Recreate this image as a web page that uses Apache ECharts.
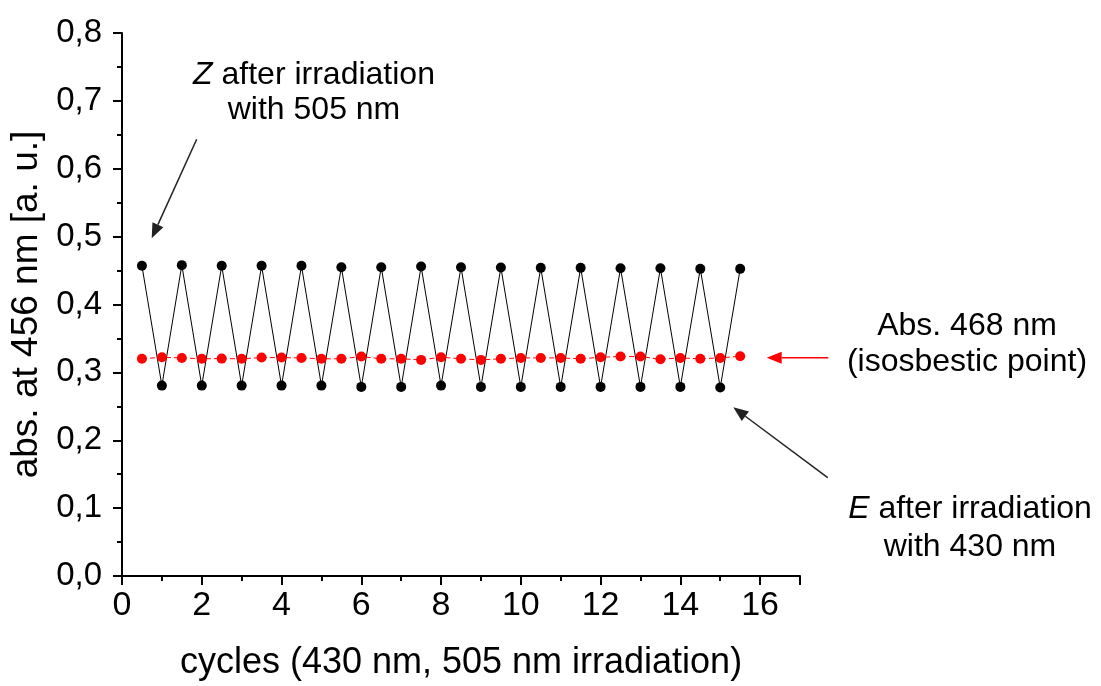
<!DOCTYPE html>
<html>
<head>
    <meta charset="utf-8">
    <title>cycles</title>
    <script src="https://cdn.jsdelivr.net/npm/echarts@6/dist/echarts.min.js"></script>
    <style>
        html, body { margin: 0; padding: 0; background-color: #ffffff; }
        #chart { width: 1101px; height: 686px; }
    </style>
</head>
<body>
<div id="chart"></div>
<script>
    // x positions: half cycles
    var cycles = [0.5, 1, 1.5, 2, 2.5, 3, 3.5, 4, 4.5, 5, 5.5, 6, 6.5, 7, 7.5, 8,
        8.5, 9, 9.5, 10, 10.5, 11, 11.5, 12, 12.5, 13, 13.5, 14, 14.5, 15, 15.5];
    // absorbance at 456 nm (Z / E switching)
    var abs456 = [0.457, 0.2805, 0.458, 0.2805, 0.457, 0.2805, 0.457, 0.2805, 0.457, 0.2805,
        0.455, 0.2786, 0.455, 0.2786, 0.456, 0.2805, 0.455, 0.2786, 0.4545, 0.2786,
        0.454, 0.2786, 0.454, 0.2786, 0.4535, 0.2786, 0.4535, 0.2786, 0.4525, 0.2776, 0.4525];
    // absorbance at 468 nm (isosbestic point)
    var abs468 = [0.320, 0.3223, 0.3213, 0.320, 0.3203, 0.320, 0.3218, 0.3218, 0.3213, 0.320,
        0.320, 0.3233, 0.320, 0.320, 0.3184, 0.3223, 0.320, 0.3184, 0.320, 0.3213,
        0.3213, 0.3213, 0.320, 0.3223, 0.3233, 0.3233, 0.3194, 0.3213, 0.320, 0.3213, 0.3238];
    var yTicks = ['0,0', '0,1', '0,2', '0,3', '0,4', '0,5', '0,6', '0,7', '0,8'];

    var font = 'Liberation Sans, Arial, sans-serif';

    function pairs(xs, ys) {
        var out = [];
        for (var i = 0; i < xs.length; i++) out.push([xs[i], ys[i]]);
        return out;
    }

    // arrow line + filled triangular head (pixel coords, annotation only)
    function arrow(x1, y1, x2, y2, color) {
        var dx = x2 - x1, dy = y2 - y1, len = Math.sqrt(dx * dx + dy * dy);
        var ux = dx / len, uy = dy / len, hl = 15, hw = 6;
        var bx = x2 - ux * hl, by = y2 - uy * hl;
        return [
            { type: 'line', shape: { x1: x1, y1: y1, x2: bx, y2: by }, style: { stroke: color, lineWidth: 1.5 } },
            {
                type: 'polygon',
                shape: { points: [[x2, y2], [bx - uy * hw, by + ux * hw], [bx + uy * hw, by - ux * hw]] },
                style: { fill: color }
            }
        ];
    }

    var chart = echarts.init(document.getElementById('chart'));
    var option = {
        animation: false,
        backgroundColor: '#ffffff',
        grid: { left: 122, top: 33, right: 301, bottom: 110 },
        xAxis: {
            type: 'value',
            min: 0, max: 17, interval: 2,
            name: 'cycles (430 nm, 505 nm irradiation)',
            nameLocation: 'middle',
            nameGap: 69,
            nameTextStyle: { fontFamily: font, fontSize: 36, color: '#000' },
            axisLine: { lineStyle: { color: '#000', width: 2 } },
            axisTick: { inside: false, length: 9, lineStyle: { color: '#000', width: 2 } },
            minorTick: { show: true, splitNumber: 2, length: 5, lineStyle: { color: '#000', width: 2 } },
            axisLabel: { fontFamily: font, fontSize: 34, color: '#000', margin: 13, showMaxLabel: false },
            splitLine: { show: false }
        },
        yAxis: {
            type: 'value',
            min: 0, max: 0.8, interval: 0.1,
            name: 'abs. at 456 nm [a. u.]',
            nameLocation: 'middle',
            nameGap: 75,
            nameTextStyle: { fontFamily: font, fontSize: 37, color: '#000' },
            axisLine: { show: true, lineStyle: { color: '#000', width: 2 } },
            axisTick: { show: true, inside: false, length: 9, lineStyle: { color: '#000', width: 2 } },
            minorTick: { show: true, splitNumber: 2, length: 5, lineStyle: { color: '#000', width: 2 } },
            axisLabel: {
                fontFamily: font, fontSize: 33, color: '#000', margin: 20,
                formatter: function (v) { return yTicks[Math.round(v * 10)]; }
            },
            splitLine: { show: false }
        },
        series: [
            {
                type: 'line',
                data: pairs(cycles, abs456),
                symbol: 'circle',
                symbolSize: 10,
                itemStyle: { color: '#000' },
                lineStyle: { color: '#000', width: 1 }
            },
            {
                type: 'line',
                data: pairs(cycles, abs468),
                symbol: 'circle',
                symbolSize: 10,
                itemStyle: { color: '#ff0000' },
                lineStyle: { color: '#ff0000', width: 1, type: [5, 3] }
            }
        ]
    };

    // annotation texts and arrows
    var g = [
        {
            type: 'text', x: 314, y: 58,
            style: {
                text: '{i|Z} after irradiation\nwith 505 nm', align: 'center',
                fontFamily: font, fontSize: 32, fill: '#000', lineHeight: 35,
                rich: { i: { fontStyle: 'italic', fontFamily: font, fontSize: 32, lineHeight: 35 } }
            }
        },
        {
            type: 'text', x: 967, y: 308,
            style: {
                text: 'Abs. 468 nm\n(isosbestic point)', align: 'center',
                fontFamily: font, fontSize: 32, fill: '#000', lineHeight: 36
            }
        },
        {
            type: 'text', x: 970, y: 490,
            style: {
                text: '{i|E} after irradiation\nwith 430 nm', align: 'center',
                fontFamily: font, fontSize: 32, fill: '#000', lineHeight: 38,
                rich: { i: { fontStyle: 'italic', fontFamily: font, fontSize: 32, lineHeight: 38 } }
            }
        }
    ];
    g = g.concat(arrow(196.7, 139.3, 151.7, 238.3, '#222'));
    g = g.concat(arrow(827.7, 477.7, 733.3, 407.3, '#222'));
    g = g.concat(arrow(828.3, 357.7, 766.7, 357.7, '#ff0000'));
    option.graphic = g;

    chart.setOption(option);
</script>
</body>
</html>
